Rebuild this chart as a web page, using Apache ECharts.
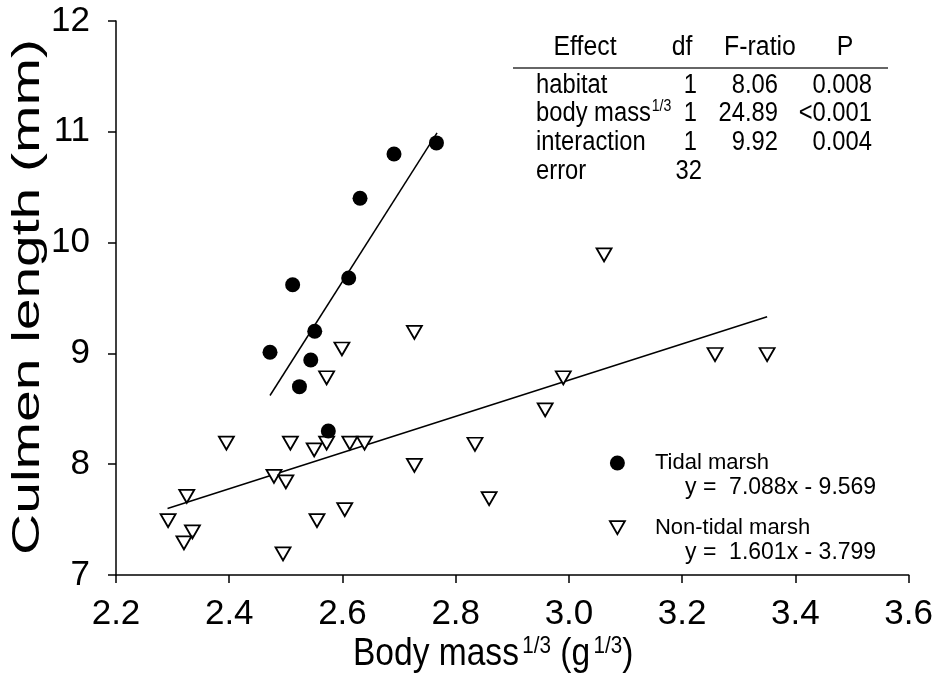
<!DOCTYPE html>
<html><head><meta charset="utf-8">
<script src="https://cdn.jsdelivr.net/npm/echarts@6/dist/echarts.min.js"></script>
<style>html,body{margin:0;padding:0;background:#fff}#c{width:936px;height:679px}</style>
</head><body><div id="c"></div>
<script>
const xTicks = [2.2, 2.4, 2.6, 2.8, 3.0, 3.2, 3.4, 3.6];
const yTicks = [7, 8, 9, 10, 11, 12];
const seriesNames = ['Tidal marsh', 'Non-tidal marsh'];
const tidalX = [2.766, 2.691, 2.631, 2.611, 2.512, 2.551, 2.472, 2.544, 2.524, 2.575];
const tidalY = [10.90, 10.80, 10.40, 9.68, 9.62, 9.20, 9.01, 8.94, 8.70, 8.30];
const nonTidalX = [2.292, 2.325, 2.335, 2.320, 2.395, 2.479, 2.500, 2.508, 2.495, 2.550, 2.572, 2.555, 2.604,
  2.613, 2.639, 2.599, 2.572, 2.727, 2.727, 2.834, 2.859, 2.958, 2.990, 3.062, 3.258, 3.350];
const nonTidalY = [7.49, 7.71, 7.39, 7.29, 8.19, 7.89, 7.84, 8.19, 7.19, 8.13, 8.19, 7.49, 7.59,
  8.19, 8.19, 9.04, 8.78, 9.19, 7.99, 8.18, 7.69, 8.49, 8.78, 9.89, 8.99, 8.99];
const tidalFitX = [2.472, 2.767];
const tidalFitY = [8.62, 10.99];
const nonTidalFitX = [2.291, 3.350];
const nonTidalFitY = [7.60, 9.33];
const equations = ['y =  7.088x - 9.569', 'y =  1.601x - 3.799'];
const tableHeader = ['Effect', 'df', 'F-ratio', 'P'];
const tableEffects = ['habitat', 'body mass', 'interaction', 'error'];
const tableDf = ['1', '1', '1', '32'];
const tableF = ['8.06', '24.89', '9.92', ''];
const tableP = ['0.008', '<0.001', '0.004', ''];

const FONT = "'Liberation Sans', Arial, Helvetica, sans-serif";
const zip = (xs, ys) => xs.map((x, i) => [x, ys[i]]);

function txt(x, y, text, o) {
  o = o || {};
  return {
    type: 'text', x: x, y: y, scaleX: o.sx || 1, scaleY: o.sy || 1, rotation: o.rot || 0,
    silent: true,
    style: {
      text: text, x: 0, y: 0, fontSize: o.fs || 27, fontFamily: FONT, fill: '#000',
      align: o.align || 'left', verticalAlign: 'middle', rich: o.rich
    }
  };
}

const graphics = [];
// table
const hdrY = 48, hdrX = [585, 682, 760, 845];
tableHeader.forEach((h, i) => graphics.push(txt(hdrX[i], hdrY, h, {align: 'center', sx: 0.92})));
graphics.push({type: 'line', silent: true, shape: {x1: 513, y1: 68, x2: 888, y2: 68}, style: {stroke: '#333', lineWidth: 1.5}});
const rowY = [86, 114, 143, 172];
const supRich = {
  a: {fontSize: 27, fontFamily: FONT, lineHeight: 30},
  s: {fontSize: 16, fontFamily: FONT, verticalAlign: 'top', lineHeight: 30, padding: [0, 0, 0, 1]}
};
tableEffects.forEach((e, i) => {
  const label = i === 1 ? '{a|' + e + '}{s|1/3}' : e;
  graphics.push(txt(536, rowY[i], label, {sx: 0.88, rich: i === 1 ? supRich : undefined}));
  graphics.push(txt(i === 3 ? 702 : 697, rowY[i], tableDf[i], {align: 'right', sx: 0.88}));
  if (tableF[i]) graphics.push(txt(778, rowY[i], tableF[i], {align: 'right', sx: 0.88}));
  if (tableP[i]) graphics.push(txt(872, rowY[i], tableP[i], {align: 'right', sx: 0.88}));
});
// equations under legend
graphics.push(txt(685, 488, equations[0], {fs: 23}));
graphics.push(txt(685, 553, equations[1], {fs: 23}));
// axis titles
graphics.push(txt(28, 297, 'Culmen length (mm)', {fs: 39, align: 'center', rot: Math.PI / 2, sx: 1.46}));
graphics.push(txt(353, 654, '{a|Body mass}{s|1/3}{a| (g}{s|1/3}{a|)}', {
  fs: 39, sx: 0.86,
  rich: {
    a: {fontSize: 39, fontFamily: FONT, lineHeight: 40},
    s: {fontSize: 24, fontFamily: FONT, verticalAlign: 'top', lineHeight: 40, padding: [0, 0, 0, 4]}
  }
}));

const axisCommon = {
  axisLine: {show: true, onZero: false, lineStyle: {color: '#000', width: 1.5}},
  axisTick: {show: true, inside: false, length: 8, lineStyle: {color: '#000', width: 1.5}},
  splitLine: {show: false},
  axisLabel: {color: '#000', fontSize: 35, fontFamily: FONT, margin: 24}
};

const option = {
  animation: false,
  backgroundColor: '#fff',
  grid: {left: 116, right: 27, top: 21, bottom: 104, containLabel: false},
  xAxis: Object.assign({}, axisCommon, {
    type: 'value', min: xTicks[0], max: xTicks[xTicks.length - 1], interval: 0.2,
    axisLabel: Object.assign({}, axisCommon.axisLabel, {formatter: v => v.toFixed(1), margin: 22})
  }),
  yAxis: Object.assign({}, axisCommon, {
    type: 'value', min: yTicks[0], max: yTicks[yTicks.length - 1], interval: 1,
    axisLabel: Object.assign({}, axisCommon.axisLabel, {margin: 26})
  }),
  legend: {
    data: [
      {name: seriesNames[0], icon: 'circle'},
      {name: seriesNames[1], icon: 'path://M0,0L16,0L8,14Z',
        itemStyle: {color: '#fff', borderColor: '#000', borderWidth: 1.8}}
    ],
    orient: 'vertical', left: 609, top: 451, padding: 0, itemWidth: 15, itemHeight: 15,
    itemGap: 40.6, selectedMode: false,
    textStyle: {fontSize: 22, fontFamily: FONT, color: '#000', lineHeight: 24, padding: [0, 0, 0, 25]}
  },
  graphic: graphics,
  series: [
    {type: 'line', silent: true, data: zip(tidalFitX, tidalFitY), symbol: 'none',
      lineStyle: {color: '#000', width: 1.5}, z: 2},
    {type: 'line', silent: true, data: zip(nonTidalFitX, nonTidalFitY), symbol: 'none',
      lineStyle: {color: '#000', width: 1.5}, z: 2},
    {name: seriesNames[1], type: 'scatter', silent: true, data: zip(nonTidalX, nonTidalY),
      symbol: 'triangle', symbolRotate: 180, symbolSize: [15, 13],
      itemStyle: {color: '#fff', borderColor: '#000', borderWidth: 1.8, opacity: 1}, z: 3},
    {name: seriesNames[0], type: 'scatter', silent: true, data: zip(tidalX, tidalY),
      symbol: 'circle', symbolSize: 15, itemStyle: {color: '#000', opacity: 1}, z: 4}
  ]
};
const chart = echarts.init(document.getElementById('c'), null, {renderer: 'canvas'});
chart.setOption(option);
</script></body></html>
